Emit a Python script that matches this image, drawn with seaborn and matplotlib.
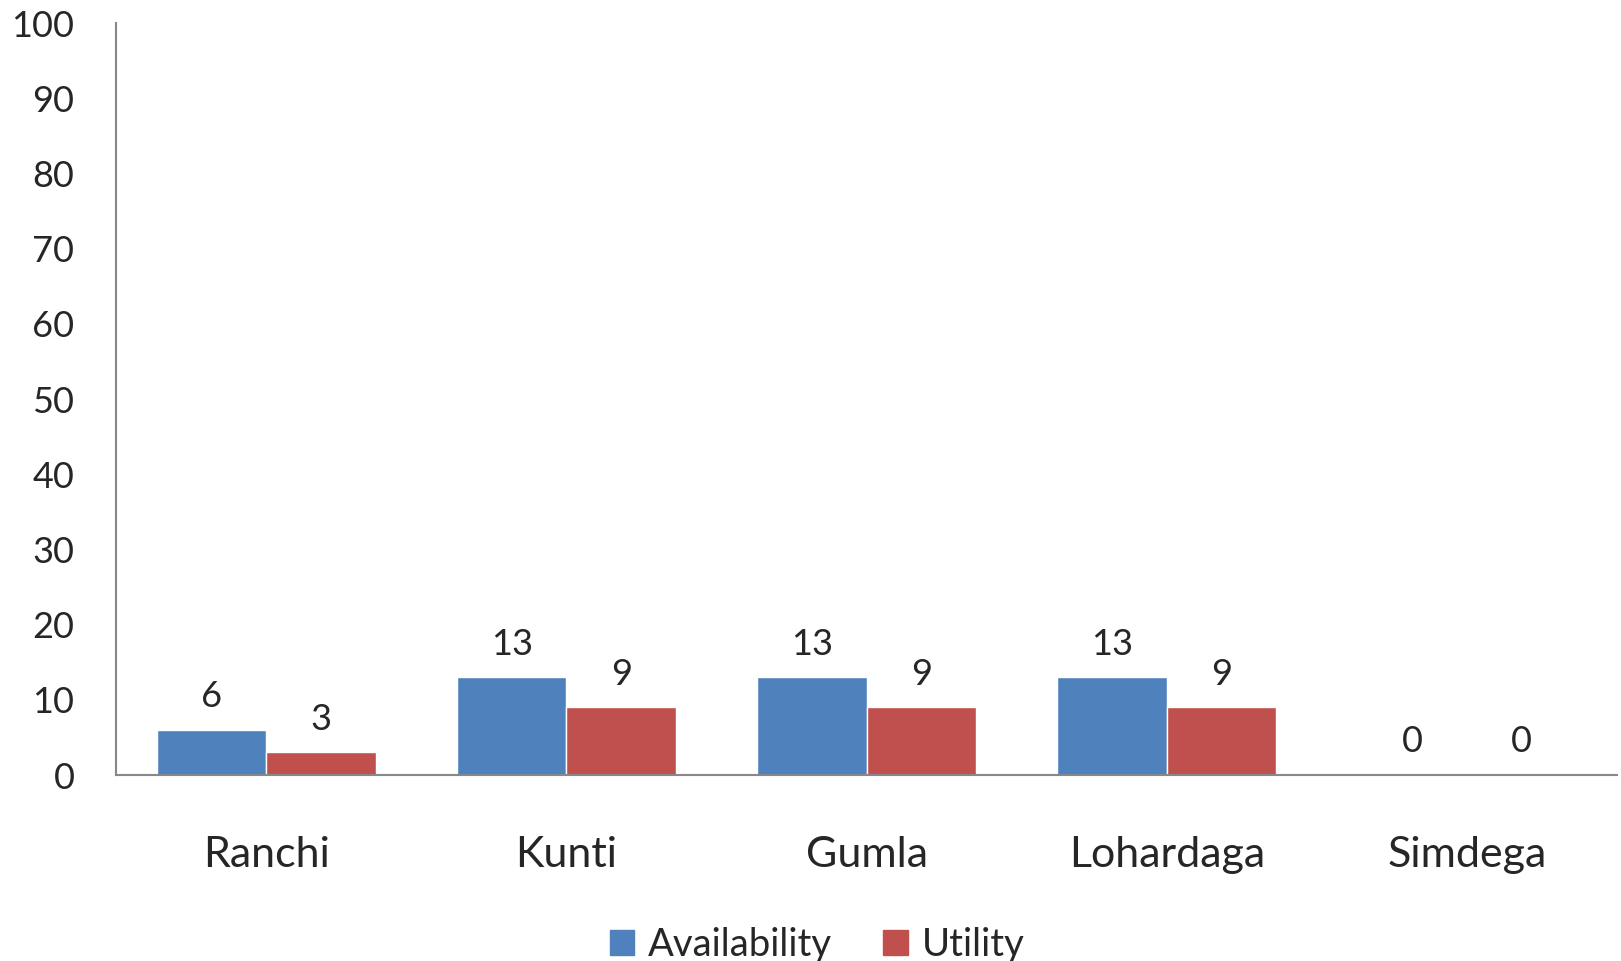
import matplotlib.pyplot as plt
import pandas as pd
import seaborn as sns

# chart values
districts = ["Ranchi", "Kunti", "Gumla", "Lohardaga", "Simdega"]
availability = [6, 13, 13, 13, 0]
utility = [3, 9, 9, 9, 0]
series = ["Availability", "Utility"]
colors = ["#4F81BD", "#C0504D"]
y_ticks = [0, 10, 20, 30, 40, 50, 60, 70, 80, 90, 100]

df = pd.DataFrame({
    "District": districts * 2,
    "Series": [series[0]] * len(districts) + [series[1]] * len(districts),
    "Value": availability + utility,
})

sns.set_style("white")
plt.rcParams['font.family'] = ['Lato', 'DejaVu Sans']

fig = plt.figure(figsize=(16.21, 9.61), dpi=100)
ax = fig.add_axes([0.0716, 0.1935, 0.926, 0.7825])

sns.barplot(data=df, x="District", y="Value", hue="Series", palette=colors,
            width=0.73, saturation=1, ax=ax, legend=False)

for cont in ax.containers:
    ax.bar_label(cont, padding=12, fontsize=26)

ax.set_ylim(0, 100)
ax.set_xlim(-0.5, 4.5)
ax.set_yticks(y_ticks)
ax.tick_params(axis='y', length=0, pad=30, labelsize=26)
ax.tick_params(axis='x', length=0, pad=44, labelsize=31)
ax.set_xlabel("")
ax.set_ylabel("")

for s in ["top", "right"]:
    ax.spines[s].set_visible(False)
for s in ["left", "bottom"]:
    ax.spines[s].set_color("#888888")
    ax.spines[s].set_linewidth(1.5)

handles = [plt.Rectangle((0, 0), 1, 1, color=c) for c in colors]
fig.legend(handles, series, loc='center', bbox_to_anchor=(0.504, 1 - 945 / 961),
           ncol=2, frameon=False, fontsize=27.5, handlelength=0.65, handleheight=0.65,
           handletextpad=0.35, columnspacing=1.35)

fig.savefig("out.png", dpi=100)
